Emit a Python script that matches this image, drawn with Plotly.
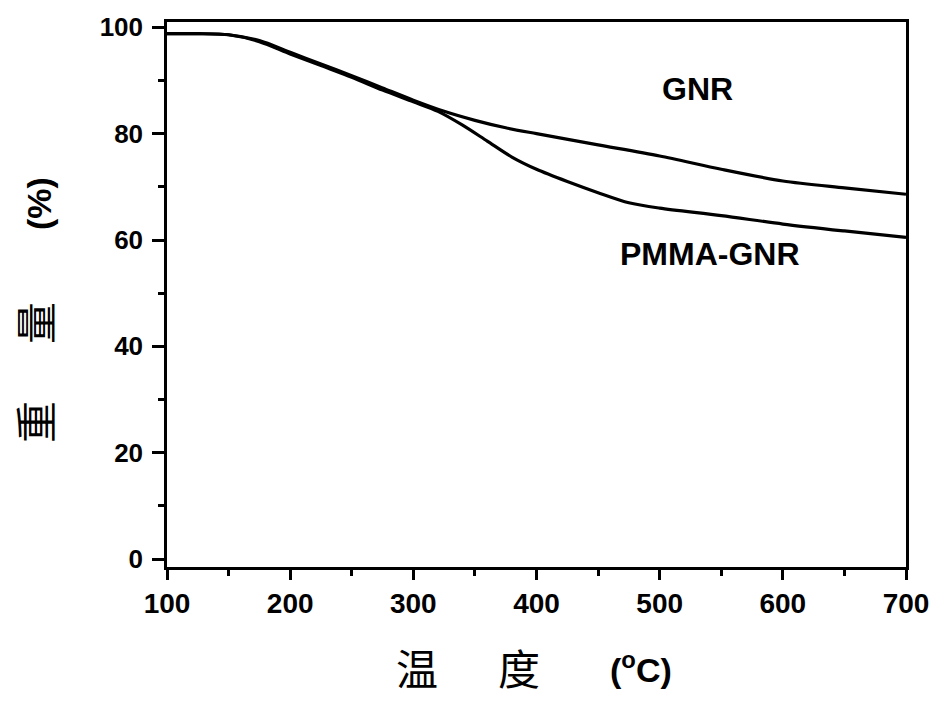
import plotly.graph_objects as go

temp_gnr = [100, 125, 150, 175, 200, 225, 250, 275, 300, 325, 350, 375, 400, 450, 500, 550, 600, 650, 700]
weight_gnr = [98.8, 98.8, 98.6, 97.5, 95.3, 93.1, 90.9, 88.6, 86.3, 84.2, 82.5, 81.1, 80.0, 77.9, 75.8, 73.3, 71.1, 69.8, 68.6]

temp_pmma = [100, 125, 150, 175, 200, 225, 250, 275, 300, 320, 340, 360, 380, 400, 425, 450, 475, 500, 550, 600, 650, 700]
weight_pmma = [98.8, 98.8, 98.6, 97.3, 95.0, 92.8, 90.6, 88.2, 86.0, 84.2, 81.6, 78.6, 75.6, 73.3, 71.0, 68.9, 67.0, 66.0, 64.6, 63.0, 61.7, 60.5]

x_ticks = [100, 200, 300, 400, 500, 600, 700]
y_ticks = [0, 20, 40, 60, 80, 100]

fig = go.Figure()
fig.add_trace(go.Scatter(x=temp_gnr, y=weight_gnr, mode="lines", name="GNR",
                         line=dict(color="black", width=3.2, shape="spline", smoothing=0.8)))
fig.add_trace(go.Scatter(x=temp_pmma, y=weight_pmma, mode="lines", name="PMMA-GNR",
                         line=dict(color="black", width=3.2, shape="spline", smoothing=0.8)))

xtickfont = dict(family="Liberation Sans, Arial", size=28, color="black", weight="bold")
ytickfont = dict(family="Liberation Sans, Arial", size=26, color="black", weight="bold")
fig.update_layout(
    width=941, height=702,
    margin=dict(l=167, r=31, t=17, b=135),
    paper_bgcolor="white", plot_bgcolor="white",
    showlegend=False,
    xaxis=dict(range=[100, 700], tickvals=x_ticks, ticktext=[str(v) for v in x_ticks],
               showline=True, linecolor="black", linewidth=2.5, mirror=True,
               ticks="outside", ticklen=10, tickwidth=2.5, tickcolor="black",
               minor=dict(ticks="outside", ticklen=6, tickwidth=2.5, dtick=50, tick0=100, tickcolor="black"),
               showgrid=False, zeroline=False, tickfont=xtickfont),
    yaxis=dict(range=[-1.5, 101], tickvals=y_ticks, ticktext=[str(v) for v in y_ticks],
               showline=True, linecolor="black", linewidth=2.5, mirror=True,
               ticks="outside", ticklen=12, tickwidth=2.5, tickcolor="black",
               ticklabelstandoff=4,
               minor=dict(ticks="outside", ticklen=6, tickwidth=2.5, dtick=10, tick0=0, tickcolor="black"),
               showgrid=False, zeroline=False, tickfont=ytickfont),
)

labfont = dict(family="Liberation Sans, Arial", size=32, color="black", weight="bold")
fig.add_annotation(x=531, y=88.4, text="GNR", showarrow=False, font=labfont)
fig.add_annotation(x=541, y=57.3, text="PMMA-GNR", showarrow=False, font=labfont)

cjk = dict(family="Noto Sans CJK SC", size=42, color="black")
lat = dict(family="Liberation Sans, Arial", size=34, color="black", weight="bold")
anc = dict(xref="paper", yref="paper", showarrow=False, xanchor="center", yanchor="middle")
# x-axis title pieces
fig.add_annotation(x=(418 - 167) / 743, y=-(667 - 567) / 550, text="温", font=cjk, **anc)
fig.add_annotation(x=(521 - 167) / 743, y=-(667 - 567) / 550, text="度", font=cjk, **anc)
fig.add_annotation(x=(644 - 167) / 743, y=-(668 - 567) / 550, text="(<sup>o</sup>C)", font=lat, **anc)
# y-axis title pieces
fig.add_annotation(x=-(167 - 33) / 743, y=(567 - 421) / 550, text="重", font=cjk, textangle=-90, **anc)
fig.add_annotation(x=-(167 - 33) / 743, y=(567 - 321) / 550, text="量", font=cjk, textangle=-90, **anc)
fig.add_annotation(x=-(167 - 39) / 743, y=(567 - 200) / 550, text="(%)", font=lat, textangle=-90, **anc)

fig.write_html("out.html", config={"displayModeBar": False},
               post_script="document.body.style.margin='0';")
